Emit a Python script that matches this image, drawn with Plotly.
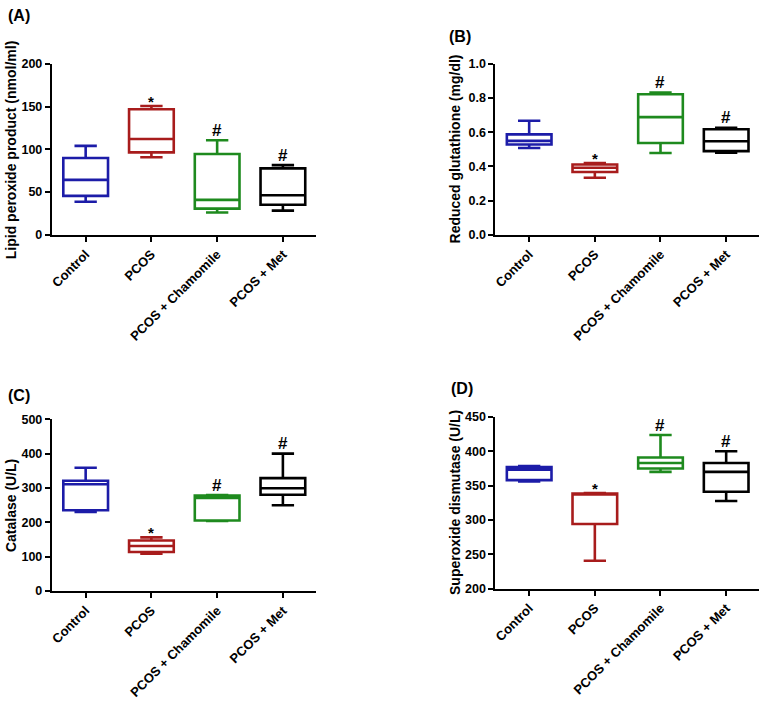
import plotly.graph_objects as go

W, H = 760, 705

categories = ["Control", "PCOS", "PCOS + Chamomile", "PCOS + Met"]
colors = ["#1c1ca8", "#a81c1c", "#1e8a1e", "#000000"]

# Panel A: Lipid peroxide product (nmol/ml)
a_min = [38.5, 90.6, 26.0, 28.2]
a_q1 = [45.4, 96.4, 30.5, 35.1]
a_med = [64.2, 112.0, 40.8, 46.2]
a_q3 = [89.8, 146.8, 94.4, 77.6]
a_max = [104.0, 150.6, 110.5, 81.4]
a_sig = ["", "*", "#", "#"]

# Panel B: Reduced glutathione (mg/dl)
b_min = [0.507, 0.333, 0.478, 0.480]
b_q1 = [0.528, 0.367, 0.537, 0.489]
b_med = [0.549, 0.392, 0.688, 0.547]
b_q3 = [0.587, 0.411, 0.822, 0.617]
b_max = [0.667, 0.419, 0.832, 0.625]
b_sig = ["", "*", "#", "#"]

# Panel C: Catalase (U/L)
c_min = [230, 108.6, 204, 249.7]
c_q1 = [235, 113.5, 205, 280]
c_med = [311, 130.6, 270.6, 299]
c_q3 = [321, 147, 278, 328.6]
c_max = [359, 156, 279, 400]
c_sig = ["", "*", "#", "#"]

# Panel D: Superoxide dismutase (U/L)
d_min = [356, 240.4, 370, 327.6]
d_q1 = [358, 294, 375, 341]
d_med = [373, 337, 383, 370]
d_q3 = [377, 338.5, 391, 383]
d_max = [378.5, 339, 423.7, 400]
d_sig = ["", "*", "#", "#"]

panels = [
    dict(name="(A)", title="Lipid peroxide product (nmol/ml)", mn=a_min, q1=a_q1, med=a_med, q3=a_q3, mx=a_max, sig=a_sig,
         yr=[0, 200], dt=50, fmt="d", xpx=(49, 314), ypx=(58, 232.3), titlex=8, lab=(3, 9)),
    dict(name="(B)", title="Reduced glutathione (mg/dl)", mn=b_min, q1=b_q1, med=b_med, q3=b_q3, mx=b_max, sig=b_sig,
         yr=[0, 1.0], dt=0.2, fmt=".1f", xpx=(494.3, 759), ypx=(58, 232.3), titlex=454, lab=(446, 30)),
    dict(name="(C)", title="Catalase (U/L)", mn=c_min, q1=c_q1, med=c_med, q3=c_q3, mx=c_max, sig=c_sig,
         yr=[0, 500], dt=100, fmt="d", xpx=(49, 314), ypx=(420.7, 595.7), titlex=8, lab=(3, 396)),
    dict(name="(D)", title="Superoxide dismutase (U/L)", mn=d_min, q1=d_q1, med=d_med, q3=d_q3, mx=d_max, sig=d_sig,
         yr=[200, 450], dt=50, fmt="d", xpx=(494.3, 759), ypx=(418.3, 593.3), titlex=454, lab=(448, 389)),
]

FONT = "Arial, Liberation Sans, sans-serif"
fig = go.Figure()
annotations = []
layout = {}

for k, p in enumerate(panels):
    idx = "" if k == 0 else str(k + 1)
    xa, ya = "x" + idx, "y" + idx
    for i, cat in enumerate(categories):
        fig.add_trace(go.Box(
            x=[i], q1=[p["q1"][i]], median=[p["med"][i]], q3=[p["q3"][i]],
            lowerfence=[p["mn"][i]], upperfence=[p["mx"][i]],
            boxpoints=False, width=0.68, whiskerwidth=0.5,
            line=dict(color=colors[i], width=2.6), fillcolor="rgba(255,255,255,0)",
            xaxis=xa, yaxis=ya, showlegend=False, name=cat, hoverinfo="skip",
        ))
        s = p["sig"][i]
        if s:
            annotations.append(dict(
                x=i, y=p["mx"][i], xref=xa, yref=ya, text="<b>%s</b>" % s,
                showarrow=False, yanchor="middle", yshift=10 if s == "#" else 5,
                font=dict(family=FONT, size=17 if s == "#" else 15, color="black"),
            ))
    x0, x1 = p["xpx"]
    yt, yb = p["ypx"]
    layout["xaxis" + idx] = dict(
        domain=[x0 / W, x1 / W], anchor=ya, range=[-0.515, 3.5],
        tickmode="array", tickvals=list(range(len(categories))),
        ticktext=["<b>%s</b>" % c for c in categories], tickangle=-45,
        showline=True, linecolor="black", linewidth=2, ticks="outside", ticklen=5, tickwidth=2,
        tickcolor="black", showgrid=False, zeroline=False,
        tickfont=dict(family=FONT, size=13, color="black"),
    )
    layout["yaxis" + idx] = dict(
        domain=[1 - yb / H, 1 - yt / H], anchor=xa, range=p["yr"], dtick=p["dt"], tick0=p["yr"][0],
        tickformat=p["fmt"],
        showline=True, linecolor="black", linewidth=2, ticks="outside", ticklen=5, tickwidth=2,
        tickcolor="black", showgrid=False, zeroline=False,
        tickfont=dict(family=FONT, size=12.5, color="black", weight="bold"),
    )
    annotations.append(dict(
        x=p["titlex"] / W, y=1 - ((yt + yb) / 2) / H, xref="paper", yref="paper",
        text="<b>%s</b>" % p["title"], textangle=-90, showarrow=False,
        xanchor="center", yanchor="middle", font=dict(family=FONT, size=14, color="black"),
    ))
    annotations.append(dict(
        x=p["lab"][0] / W, y=1 - p["lab"][1] / H, xref="paper", yref="paper",
        text="<b>%s</b>" % p["name"], showarrow=False, xanchor="left", yanchor="middle",
        font=dict(family=FONT, size=16, color="black"),
    ))

fig.update_layout(
    width=W, height=H, margin=dict(l=0, r=0, t=0, b=0),
    paper_bgcolor="white", plot_bgcolor="white", boxmode="overlay",
    annotations=annotations, hovermode=False, **layout,
)
fig.write_html("out.html", config={"displayModeBar": False, "staticPlot": True},
               post_script="document.body.style.margin='0px';")
